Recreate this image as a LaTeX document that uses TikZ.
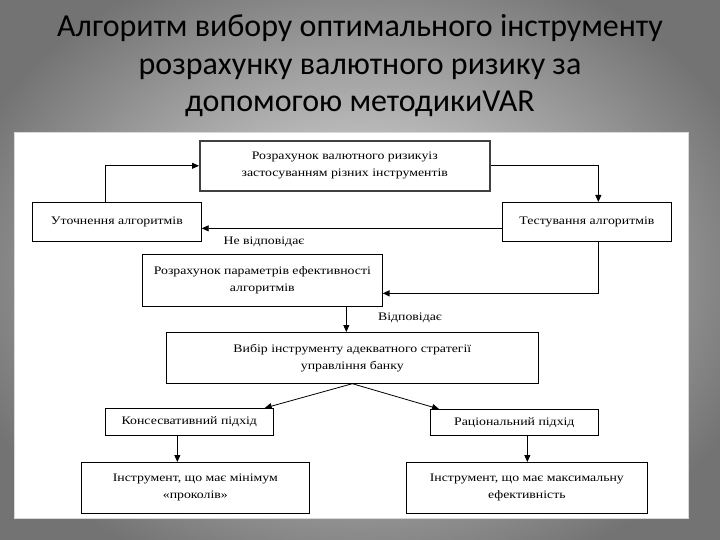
\documentclass[tikz,border=0pt]{standalone}
\usepackage{fontspec}
\setmainfont{Liberation Serif}
\newfontfamily\titlefont{Carlito}
\newfontfamily\diagfont[FakeStretch=1.2]{Liberation Serif}
\usetikzlibrary{arrows.meta,calc}
\tikzset{
  box/.style={draw=black, line width=0.7pt, fill=white, anchor=north west, inner sep=1pt,
    align=center, font=\diagfont\fontsize{11.5}{17}\selectfont},
  topbox/.style={box, draw=black!75, line width=1.6pt},
  arr/.style={draw=black, line width=0.8pt, -{Triangle[length=7pt,width=6pt]}},
  thickarr/.style={arr, line width=1.5pt},
  lbl/.style={font=\diagfont\fontsize{11.5}{13}\selectfont, inner sep=0pt},
  ttl/.style={font=\titlefont\fontsize{32}{38}\selectfont, inner sep=0pt, anchor=base}
}
\begin{document}
\begin{tikzpicture}[x=1pt,y=-1pt]
\useasboundingbox (0,0) rectangle (720,540);
\shade[inner color=black!8, outer color=black!55] (-60,-60) rectangle (780,600);
\node[ttl] (t1) at (360,37) {Алгоритм вибору оптимального інструменту};
\node[ttl] (t2) at (360,75) {розрахунку валютного ризику за};
\node[ttl] (t3) at (360,112) {допомогою методикиVAR};
\path[fill=white, draw=black!15, line width=1pt] (14,133) rectangle (688,518);

\node[topbox, minimum width=290pt, minimum height=50pt] (b1) at (199,140)
  {Розрахунок валютного ризикуіз\\застосуванням різних інструментів};
\node[box, minimum width=169pt, minimum height=39pt] (b2) at (32,202) {Уточнення алгоритмів};
\node[box, minimum width=169pt, minimum height=39pt] (b3) at (502,202) {Тестування алгоритмів};
\node[box, minimum width=240pt, minimum height=52pt] (b4) at (142,254)
  {Розрахунок параметрів ефективності\\алгоритмів};
\node[box, minimum width=372pt, minimum height=51pt] (b5) at (166,332)
  {Вибір інструменту адекватного стратегії\\управління банку};
\node[box, minimum width=168pt, minimum height=27pt] (b6) at (105,408) {Консесвативний підхід};
\node[box, minimum width=168pt, minimum height=26pt] (b7) at (430,409) {Раціональний підхід};
\node[box, minimum width=228pt, minimum height=51pt] (b8) at (81,462)
  {Інструмент, що має мінімум\\«проколів»};
\node[box, minimum width=241pt, minimum height=51pt] (b9) at (406,462)
  {Інструмент, що має максимальну\\ефективність};

\coordinate (p2) at ([xshift=-11.5pt]b2.north);
\coordinate (p3) at ([xshift=11.5pt]b3.north);
\coordinate (q3) at ([xshift=11.5pt]b3.south);
\coordinate (p5) at ([xshift=-6pt]b5.north);
\coordinate (p6) at ([xshift=-12pt]b6.south);
\coordinate (p7) at ([xshift=13pt]b7.south);

\draw[arr] (p2) |- (b1.west);
\draw[arr] (b1.east) -| (p3);
\draw[arr] ([yshift=-6.5pt]b3.west) -- ([yshift=-6.5pt]b2.east);
\node[lbl] (l1) at (264,242) {Не відповідає};
\draw[thickarr] (q3) |- ([yshift=-13pt]b4.east);
\draw[arr] (b4.south -| p5) -- (p5);
\node[lbl] (l2) at (410,318) {Відповідає};
\draw[arr] (b5.south) -- ([xshift=-9pt]b6.north east);
\draw[arr] (b5.south) -- ([xshift=9pt]b7.north west);
\draw[arr] (p6) -- (p6 |- b8.north);
\draw[arr] (p7) -- (p7 |- b9.north);
\end{tikzpicture}
\end{document}
